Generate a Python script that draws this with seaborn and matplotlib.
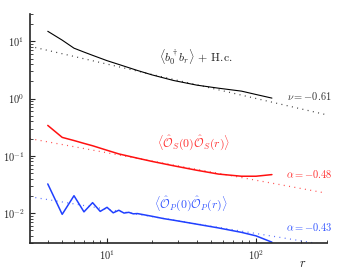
import numpy as np
import pandas as pd
import matplotlib
matplotlib.use("Agg")
import matplotlib.pyplot as plt
from matplotlib.ticker import LogLocator, FuncFormatter, NullFormatter
import seaborn as sns

# ---- data ----
r_main = [4, 5, 6, 7, 8, 10, 12, 16, 20, 28, 40, 56, 80, 100, 128]
hop = [15, 10.5, 7.6, 6.5, 5.7, 4.6, 3.95, 3.1, 2.6, 2.07, 1.72, 1.52, 1.35, 1.18, 1.02]
corr_s = [0.34, 0.21, 0.185, 0.165, 0.15, 0.125, 0.108, 0.091, 0.08, 0.067,
          0.056, 0.048, 0.044, 0.044, 0.047]

r_p = [4, 5, 6, 7, 8, 9, 10, 11, 12, 13, 14, 15, 16, 20, 24, 28, 40, 56, 80, 100, 128]
corr_p = [0.0323, 0.0095, 0.0201, 0.0105, 0.0152, 0.0107, 0.0126, 0.0101, 0.0112,
          0.0100, 0.0103, 0.0097, 0.0098, 0.0088, 0.0080, 0.0075, 0.0064, 0.0055,
          0.0046, 0.0040, 0.0031]

# power-law fit lines (end points)
fit_r = [3.04, 290]
hop_fit = [8.2, 0.53]
s_fit = [0.2, 0.0225]
p_fit = [0.0193, 0.0028]

sns.set_style("ticks")
plt.rcParams["mathtext.fontset"] = "cm"
plt.rcParams["font.family"] = ["DejaVu Serif"]

fig = plt.figure(figsize=(3.49, 2.76), dpi=100)
ax = fig.add_axes([0.086, 0.1196, 0.851, 0.8295])

black = "black"
red = "#ff1010"
blue = "#2040ff"

df_main = pd.DataFrame({"r": r_main, "hop": hop, "s": corr_s})
df_p = pd.DataFrame({"r": r_p, "p": corr_p})
df_fit = pd.DataFrame({"r": fit_r, "hop": hop_fit, "s": s_fit, "p": p_fit})

sns.lineplot(data=df_main, x="r", y="hop", ax=ax, color=black, lw=0.8)
sns.lineplot(data=df_main, x="r", y="s", ax=ax, color=red, lw=1.1)
sns.lineplot(data=df_p, x="r", y="p", ax=ax, color=blue, lw=1.1)

for col, c in [("hop", black), ("s", red), ("p", blue)]:
    sns.lineplot(data=df_fit, x="r", y=col, ax=ax, color=c, lw=0.9,
                 linestyle=(0, (0.8, 3.5)), alpha=0.75)

ax.set_xscale("log")
ax.set_yscale("log")
ax.set_xlim(3.04, 300)
ax.set_ylim(0.003, 30)

fmt = FuncFormatter(lambda v, p: r"$10^{%d}$" % int(round(np.log10(v))))
ax.xaxis.set_major_locator(LogLocator(base=10, numticks=10))
ax.yaxis.set_major_locator(LogLocator(base=10, numticks=10))
ax.xaxis.set_major_formatter(fmt)
ax.yaxis.set_major_formatter(fmt)
ax.xaxis.set_minor_locator(LogLocator(base=10, subs=np.arange(2, 10), numticks=20))
ax.yaxis.set_minor_locator(LogLocator(base=10, subs=np.arange(2, 10), numticks=20))
ax.xaxis.set_minor_formatter(NullFormatter())
ax.yaxis.set_minor_formatter(NullFormatter())

ax.tick_params(which="major", direction="in", length=3.5, width=0.8, labelsize=7.5, pad=4)
ax.tick_params(which="minor", direction="in", length=2, width=0.6)

for s in ["top", "right"]:
    ax.spines[s].set_visible(False)
for s in ["left", "bottom"]:
    ax.spines[s].set_linewidth(1.2)

ax.set_xlabel(r"$r$", fontsize=9)
ax.xaxis.set_label_coords(0.918, -0.06)
ax.set_ylabel("")

ax.text(0.559, 0.812, r"$\langle b_0^\dagger b_r\rangle$ + H.c.", family="cmr10",
        transform=ax.transAxes, ha="center", va="center", fontsize=8.5, color="#222222")
ax.text(0.939, 0.644, r"$\nu = -0.61$", transform=ax.transAxes, ha="center",
        va="center", fontsize=7.5, color="#333333", clip_on=False)
ax.text(0.549, 0.437, r"$\langle\hat{\mathcal{O}}_S(0)\hat{\mathcal{O}}_S(r)\rangle$",
        transform=ax.transAxes, ha="center", va="center", fontsize=8.5, color="#ff3030")
ax.text(0.939, 0.301, r"$\alpha = -0.48$", transform=ax.transAxes, ha="center",
        va="center", fontsize=7.5, color="#ff3030", clip_on=False)
ax.text(0.542, 0.170, r"$\langle\hat{\mathcal{O}}_P(0)\hat{\mathcal{O}}_P(r)\rangle$",
        transform=ax.transAxes, ha="center", va="center", fontsize=8.5, color="#3355ff")
ax.text(0.939, 0.070, r"$\alpha = -0.43$", transform=ax.transAxes, ha="center",
        va="center", fontsize=7.5, color="#3355ff", clip_on=False)

fig.savefig("out.png", dpi=100)
